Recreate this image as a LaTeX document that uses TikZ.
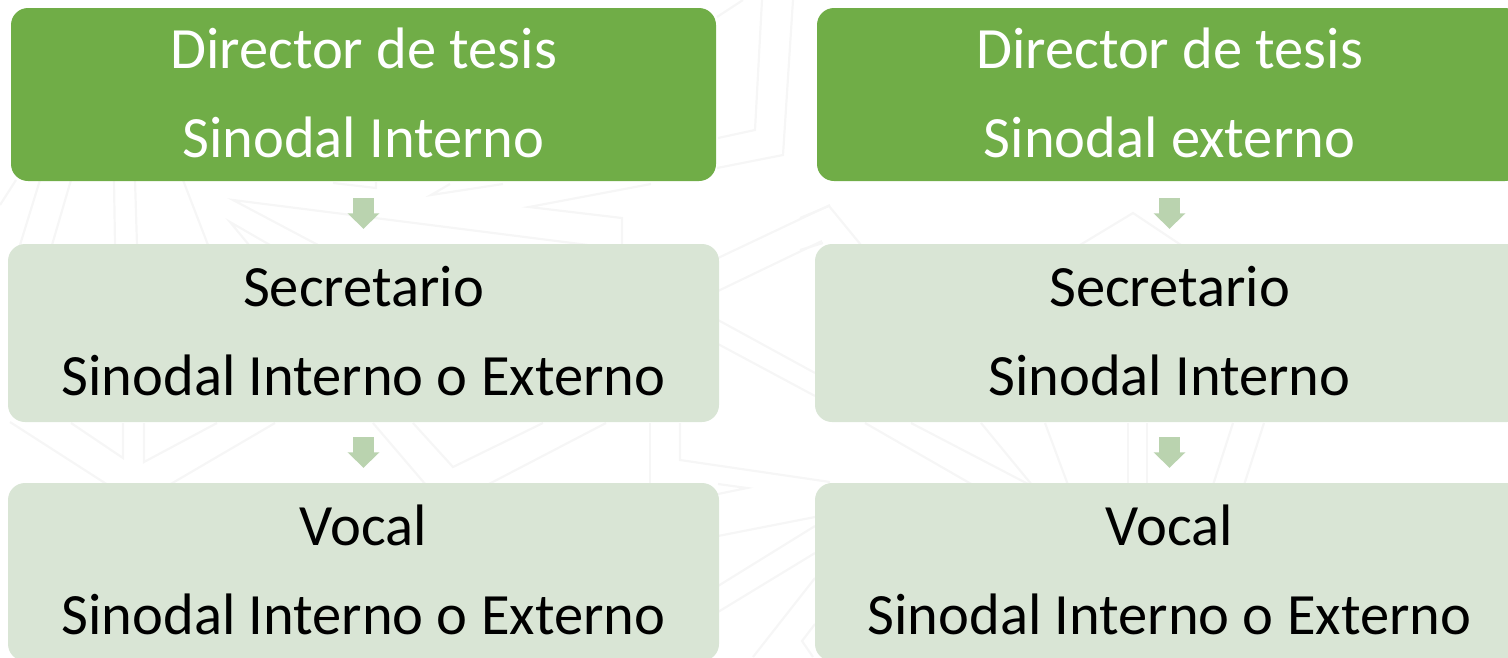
\documentclass[tikz,border=0pt]{standalone}
\usepackage{fontspec}
\setmainfont{Carlito}
\usetikzlibrary{arrows.meta}
\definecolor{topgreen}{HTML}{70AD47}
\definecolor{lightgreen}{HTML}{D9E5D5}
\definecolor{arrowgreen}{HTML}{BAD3AF}
\definecolor{faint}{HTML}{F6F6F6}
\newcommand\twoline[2]{\rule{0pt}{44pt}#1\\#2\rule[-8pt]{0pt}{8pt}}
\tikzset{
  x=1pt,y=-1pt,
  box/.style={rounded corners=17pt,inner sep=0pt,align=center,
    font=\fontsize{58.5}{89}\selectfont},
  topbox/.style={box,fill=topgreen,text=white,minimum width=705pt,minimum height=173pt},
  lowbox/.style={box,fill=lightgreen,text=black,minimum width=711pt,minimum height=178pt},
  link/.style={draw=arrowgreen,line width=21pt,shorten <=17pt,shorten >=15pt,
    -{Triangle[length=15.5pt,width=31pt,fill=arrowgreen]}},
  wm/.style={draw=faint,line width=2.2pt}
}
\begin{document}
\begin{tikzpicture}
\useasboundingbox (0,0) rectangle (1508,657);
\clip (0,0) rectangle (1508,657);
% faint watermark behind the boxes
\begin{scope}[wm]
\draw (16,180) -- (0,205);
\draw (40,180) -- (20,245);
\draw (71,180) -- (52,245);
\draw (114,180) -- (115,245);
\draw (135,180) -- (137,245);
\draw (183,180) -- (208,245);
\draw (318,245) -- (233,200) -- (588,245);
\draw (249,245) -- (230,222) -- (270,245);
\draw (651,184) -- (529,207) -- (622,218) -- (622,245);
\draw (503,184) -- (431,195) -- (450,184);
\draw (333,183) -- (376,188) -- (376,182);
\draw (718,258) -- (830,205);
\draw (718,291) -- (822,241);
\draw (718,320) -- (815,373);
\draw (718,344) -- (815,396);
\draw (10,422) -- (108,485);
\draw (71,423) -- (123,458) -- (123,423);
\draw (144,423) -- (144,462) -- (217,423);
\draw (275,423) -- (169,485);
\draw (373,423) -- (426,485);
\draw (413,423) -- (453,467) -- (543,423);
\draw (606,423) -- (487,485);
\draw (650,423) -- (650,485);
\draw (680,423) -- (680,460) -- (830,482);
\draw (800,218) -- (829,206) -- (861,245);
\draw (800,250) -- (823,243);
\draw (1080,245) -- (1133,213) -- (1181,245);
\draw (762,0) -- (755,130) -- (718,138);
\draw (793,0) -- (783,155) -- (717,168);
\draw (717,17) -- (743,0);
\draw (718,494) -- (747,488) -- (718,484);
\draw (718,536) -- (815,517);
\draw (718,586) -- (815,526);
\draw (718,612) -- (815,553);
\draw (753,657) -- (815,578);
\draw (815,624) -- (802,641) -- (813,657);
\draw (865,423) -- (973,485);
\draw (911,423) -- (1030,485);
\draw (981,423) -- (1032,485);
\draw (1045,423) -- (1068,485);
\draw (1128,423) -- (1128,485);
\draw (1147,423) -- (1147,485);
\draw (1233,423) -- (1213,485);
\draw (1264,423) -- (1244,485);
\end{scope}
\node[topbox] (a1) at (363.5,94.5) {\twoline{Director de tesis}{Sinodal Interno}};
\node[lowbox] (a2) at (363.5,333) {\twoline{Secretario}{Sinodal Interno o Externo}};
\node[lowbox] (a3) at (363.5,572) {\twoline{Vocal}{Sinodal Interno o Externo}};
\node[topbox] (b1) at (1169.5,94.5) {\twoline{Director de tesis}{Sinodal externo}};
\node[lowbox,minimum width=709pt] (b2) at (1169.5,333) {\twoline{Secretario}{Sinodal Interno}};
\node[lowbox,minimum width=709pt] (b3) at (1169.5,572) {\twoline{Vocal}{Sinodal Interno o Externo}};
\draw[link] (a1.south) -- (a2.north);
\draw[link,shorten <=15pt] (a2.south) -- (a3.north);
\draw[link] (b1.south) -- (b2.north);
\draw[link,shorten <=15pt] (b2.south) -- (b3.north);
\end{tikzpicture}
\end{document}
